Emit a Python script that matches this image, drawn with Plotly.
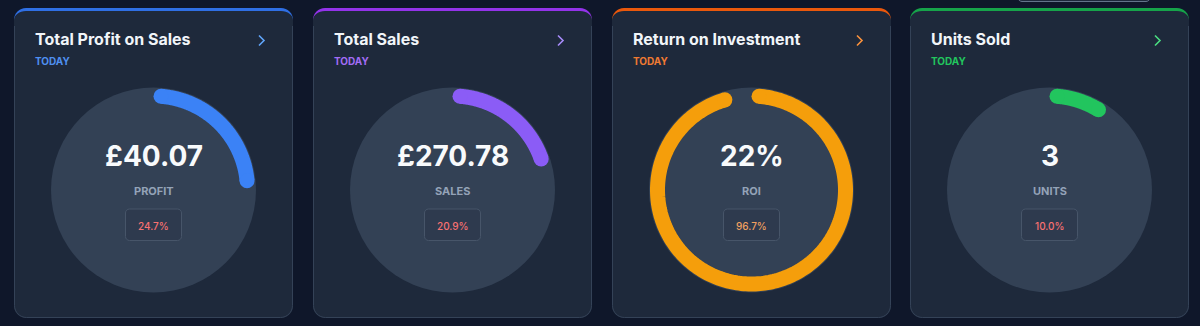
import numpy as np
import plotly.graph_objects as go

# ---------------- data ----------------
titles = ["Total Profit on Sales", "Total Sales", "Return on Investment", "Units Sold"]
periods = ["TODAY", "TODAY", "TODAY", "TODAY"]
main_values = ["£40.07", "£270.78", "22%", "3"]
value_labels = ["PROFIT", "SALES", "ROI", "UNITS"]
gauge_pct = [24.7, 20.9, 96.7, 10.0]

# ---------------- styles ----------------
W, H = 1200, 326
PAGE_BG = "#0f172a"
CARD_BG = "#1e293b"
CIRCLE_BG = "#334155"
bar_colors = ["#2f6fe4", "#9333ea", "#ea580c", "#16a34a"]
arc_colors = ["#3b82f6", "#8b5cf6", "#f59e0b", "#22c55e"]
today_colors = ["#4f8ff0", "#a26cf5", "#ef7a32", "#22c55e"]
chevron_colors = ["#60a5fa", "#a78bfa", "#fb923c", "#4ade80"]
badge_text_colors = ["#f87171", "#f87171", "#f0a060", "#f87171"]

card_x0 = [14, 313, 612, 910]
card_w = 279
card_top, card_bot = 8, 318
circ_cy, circ_R = 190, 102.5
arc_rc_px, arc_w = 94, 15

FONT = "Inter, Roboto, sans-serif"


def px(x):
    return x / W


def py(y):
    return 1 - y / H


K = 0.5523


def rrect_path(x0, y0, x1, y1, rtx, rty, rb):
    """Rounded rectangle path in paper coordinates; top corners rx=rtx, ry=rty, bottom r=rb."""
    pts = []
    pts.append(f"M{px(x0 + rtx)},{py(y0)}")
    pts.append(f"L{px(x1 - rtx)},{py(y0)}")
    pts.append(f"C{px(x1 - rtx + K * rtx)},{py(y0)} {px(x1)},{py(y0 + rty - K * rty)} {px(x1)},{py(y0 + rty)}")
    pts.append(f"L{px(x1)},{py(y1 - rb)}")
    pts.append(f"C{px(x1)},{py(y1 - rb + K * rb)} {px(x1 - rb + K * rb)},{py(y1)} {px(x1 - rb)},{py(y1)}")
    pts.append(f"L{px(x0 + rb)},{py(y1)}")
    pts.append(f"C{px(x0 + rb - K * rb)},{py(y1)} {px(x0)},{py(y1 - rb + K * rb)} {px(x0)},{py(y1 - rb)}")
    pts.append(f"L{px(x0)},{py(y0 + rty)}")
    pts.append(f"C{px(x0)},{py(y0 + rty - K * rty)} {px(x0 + rtx - K * rtx)},{py(y0)} {px(x0 + rtx)},{py(y0)}")
    pts.append("Z")
    return " ".join(pts)


def border_path(x0, y0, x1, y1, r):
    """Open path: left side, bottom, right side (no top)."""
    pts = [f"M{px(x0)},{py(y0)}",
           f"L{px(x0)},{py(y1 - r)}",
           f"C{px(x0)},{py(y1 - r + K * r)} {px(x0 + r - K * r)},{py(y1)} {px(x0 + r)},{py(y1)}",
           f"L{px(x1 - r)},{py(y1)}",
           f"C{px(x1 - r + K * r)},{py(y1)} {px(x1)},{py(y1 - r + K * r)} {px(x1)},{py(y1 - r)}",
           f"L{px(x1)},{py(y0)}"]
    return " ".join(pts)


fig = go.Figure()
shapes = []
annotations = []
layout_polars = {}

for i in range(4):
    x0 = card_x0[i]
    x1 = x0 + card_w
    cx = x0 + card_w / 2

    # card: coloured top strip then body
    shapes.append(dict(type="path", path=rrect_path(x0, card_top, x1, card_top + 30, 12, 12, 12),
                       xref="paper", yref="paper", fillcolor=bar_colors[i], line=dict(width=0), layer="below"))
    shapes.append(dict(type="path", path=rrect_path(x0, card_top + 3, x1, card_bot, 12, 9, 12),
                       xref="paper", yref="paper", fillcolor=CARD_BG, line=dict(width=0), layer="below"))
    shapes.append(dict(type="path", path=border_path(x0 + 0.5, card_top + 18, x1 - 0.5, card_bot - 0.5, 12),
                       xref="paper", yref="paper", line=dict(color="#344257", width=1), layer="below"))

    # chevron
    chx = x1 - 34
    shapes.append(dict(type="path",
                       path=f"M{px(chx)},{py(35.5)} L{px(chx + 5)},{py(40.5)} L{px(chx)},{py(45.5)}",
                       xref="paper", yref="paper", line=dict(color=chevron_colors[i], width=1.6)))

    # polar gauge
    key = "polar" if i == 0 else f"polar{i + 1}"
    sub = "polar" if i == 0 else f"polar{i + 1}"
    layout_polars[key] = dict(
        domain=dict(x=[px(cx - circ_R), px(cx + circ_R)], y=[py(circ_cy + circ_R), py(circ_cy - circ_R)]),
        bgcolor=CIRCLE_BG,
        hole=0,
        radialaxis=dict(visible=False, range=[0, 1]),
        angularaxis=dict(visible=False, rotation=90, direction="clockwise"),
    )
    rc = arc_rc_px / circ_R
    cap_deg = np.degrees((arc_w / 2) / arc_rc_px)
    frac = gauge_pct[i] / 100.0
    theta = np.linspace(cap_deg, frac * 360 - cap_deg, 240)
    fig.add_trace(go.Scatterpolar(r=np.full(theta.shape, rc), theta=theta, mode="lines",
                                  line=dict(color=arc_colors[i], width=arc_w),
                                  hoverinfo="skip", showlegend=False, subplot=sub, cliponaxis=False))
    fig.add_trace(go.Scatterpolar(r=[rc, rc], theta=[theta[0], theta[-1]], mode="markers",
                                  marker=dict(color=arc_colors[i], size=arc_w, line=dict(width=0)),
                                  hoverinfo="skip", showlegend=False, subplot=sub, cliponaxis=False))

    # badge
    bw, by0, by1 = 56, 209, 240.5
    shapes.append(dict(type="path", path=rrect_path(cx - bw / 2, by0, cx + bw / 2, by1, 4, 4, 4),
                       xref="paper", yref="paper", fillcolor="rgba(30,41,59,0.25)",
                       line=dict(color="#475569", width=1), layer="above"))

    # texts
    annotations.append(dict(x=px(x0 + 20), y=py(39.5), xref="paper", yref="paper", xanchor="left", yanchor="middle",
                            text=titles[i], showarrow=False, borderpad=0,
                            font=dict(family=FONT, size=16, color="#f1f5f9", weight=700)))
    annotations.append(dict(x=px(x0 + 20), y=py(61.2), xref="paper", yref="paper", xanchor="left", yanchor="middle",
                            text=periods[i], showarrow=False, borderpad=0,
                            font=dict(family=FONT, size=10, color=today_colors[i], weight=700)))
    annotations.append(dict(x=px(cx), y=py(156), xref="paper", yref="paper", xanchor="center", yanchor="middle",
                            text=main_values[i], showarrow=False, borderpad=0,
                            font=dict(family=FONT, size=28, color="#f8fafc", weight=700)))
    annotations.append(dict(x=px(cx), y=py(191), xref="paper", yref="paper", xanchor="center", yanchor="middle",
                            text=value_labels[i], showarrow=False, borderpad=0,
                            font=dict(family=FONT, size=11, color="#94a3b8", weight=700)))
    annotations.append(dict(x=px(cx), y=py(226), xref="paper", yref="paper", xanchor="center", yanchor="middle",
                            text=f"{gauge_pct[i]:.1f}%", showarrow=False, borderpad=0,
                            font=dict(family=FONT, size=10, color=badge_text_colors[i], weight=500)))

# cut-off element at top right
shapes.append(dict(type="path", path=rrect_path(1018, -12, 1150, 1.5, 4, 4, 4),
                   xref="paper", yref="paper", fillcolor="#1e293b", line=dict(color="#64748b", width=1),
                   layer="above"))

fig.update_layout(
    width=W, height=H,
    margin=dict(l=0, r=0, t=0, b=0),
    paper_bgcolor=PAGE_BG,
    plot_bgcolor=PAGE_BG,
    shapes=shapes,
    annotations=annotations,
    showlegend=False,
    hovermode=False,
    **layout_polars,
)

fig.write_html("out.html", config=dict(displayModeBar=False, staticPlot=True))
